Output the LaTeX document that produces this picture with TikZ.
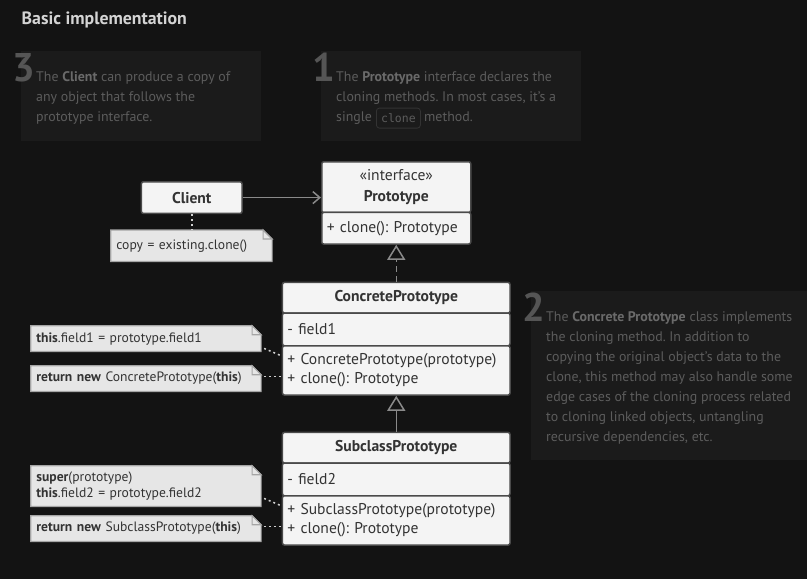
\documentclass[tikz,border=0pt]{standalone}
\usepackage{fontspec}
\setmainfont{PT Sans}
\setmonofont{DejaVu Sans Mono}
\usetikzlibrary{arrows.meta}
\frenchspacing
\definecolor{bgc}{HTML}{131313}
\definecolor{panelc}{HTML}{1B1B1B}
\definecolor{ptextc}{HTML}{5C5C5C}
\definecolor{pboldc}{HTML}{6A6A6A}
\definecolor{numc}{HTML}{555555}
\definecolor{titlec}{HTML}{D4D4D4}
\definecolor{boxfill}{HTML}{F4F4F4}
\definecolor{boxborder}{HTML}{4A4A4A}
\definecolor{boxtext}{HTML}{333333}
\definecolor{notefill}{HTML}{E6E6E6}
\definecolor{noteborder}{HTML}{A5A5A5}
\definecolor{arrowc}{HTML}{8A8A8A}
\definecolor{dotc}{HTML}{CFCFCF}
\definecolor{codeborder}{HTML}{333333}
\pgfdeclarelayer{background}
\pgfsetlayers{background,main}
\tikzset{
  panelbox/.style={fill=panelc, draw=none, anchor=north west, inner sep=0, minimum width=#1},
  ptext/.style={anchor=base west, inner sep=0, text=ptextc, font=\frenchspacing\fontsize{13.9}{20}\selectfont},
  bignum/.style={anchor=base west, inner sep=0, text=numc, font=\bfseries\fontsize{40}{40}\selectfont},
  cls/.style={draw=boxborder, fill=boxfill, line width=1.5pt, rounded corners=2pt,
    anchor=north west, inner ysep=0, inner xsep=5pt, text=boxtext,
    font=\frenchspacing\fontsize{15.6}{19.5}\selectfont},
  notebox/.style={anchor=north west, inner ysep=0, inner xsep=5.5pt, align=left,
    text=boxtext, font=\frenchspacing\fontsize{13.6}{16.7}\selectfont},
  notepoly/.style={fill=notefill, draw=noteborder, line width=1.2pt},
  assoc/.style={draw=arrowc, line width=1.5pt, -{Straight Barb[length=7pt,width=12pt,line width=1.5pt]}},
  inherit/.style={draw=arrowc, line width=1.5pt, -{Triangle[open,length=15pt,width=18pt,line width=1.5pt]}},
  realize/.style={inherit, dash pattern=on 6pt off 4pt},
  dotline/.style={draw=dotc, line width=1.5pt, dash pattern=on 2pt off 3pt},
}
\newcommand\dognote[1]{%
  \begin{pgfonlayer}{background}
  \filldraw[notepoly] (#1.north west) -- ([xshift=-9pt]#1.north east) -- ([yshift=-9pt]#1.north east)
     -- (#1.south east) -- (#1.south west) -- cycle;
  \filldraw[notepoly] ([xshift=-9pt]#1.north east) -- ([xshift=-9pt,yshift=-9pt]#1.north east)
     -- ([yshift=-9pt]#1.north east) -- cycle;
  \end{pgfonlayer}}
\begin{document}
\begin{tikzpicture}[x=1pt,y=-1pt]
\begin{pgfonlayer}{background}
\fill[bgc] (0,0) rectangle (807,579);
\end{pgfonlayer}
\useasboundingbox (0,0) rectangle (807,579);

% title
\node[anchor=base west, inner sep=0, text=titlec, font=\bfseries\fontsize{17.8}{20}\selectfont] (title) at (21.5,24) {Basic implementation};

% panel 3
\node[panelbox=240pt, minimum height=90pt] (p3) at (20.7,51) {};
\node[bignum] (n3) at (12.5,81.5) {3};
\node[ptext] (p3a) at (36,81.5) {The \textbf{\color{pboldc}Client} can produce a copy of};
\node[ptext] (p3b) at (36,101.5) {any object that follows the};
\node[ptext] (p3c) at (36,121.5) {prototype interface.};

% panel 1
\node[panelbox=260pt, minimum height=90pt] (p1) at (320.7,51) {};
\node[bignum] (n1) at (312,81.5) {1};
\node[ptext] (p1a) at (336,81.5) {The \textbf{\color{pboldc}Prototype} interface declares the};
\node[ptext] (p1b) at (336,101.5) {cloning methods. In most cases, it’s a};
\node[ptext] (p1c) at (336,121.5) {single};
\node[draw=codeborder, line width=0.8pt, rounded corners=3pt, anchor=north west, inner sep=0,
  minimum width=44pt, minimum height=20pt, text=ptextc, font=\ttfamily\fontsize{11.5}{12}\selectfont]
  (code) at (376,107.7) {clone};
\node[ptext] (p1d) at (424,121.5) {method.};

% panel 2
\node[panelbox=277pt, minimum height=169pt] (p2) at (530.7,291) {};
\node[bignum] (n2) at (522,321.5) {2};
\node[ptext] (p2a) at (546,321.5) {The \textbf{\color{pboldc}Concrete Prototype} class implements};
\node[ptext] (p2b) at (546,341.5) {the cloning method. In addition to};
\node[ptext] (p2c) at (546,361.5) {copying the original object’s data to the};
\node[ptext] (p2d) at (546,381.5) {clone, this method may also handle some};
\node[ptext] (p2e) at (546,401.5) {edge cases of the cloning process related};
\node[ptext] (p2f) at (546,421.5) {to cloning linked objects, untangling};
\node[ptext] (p2g) at (546,441.5) {recursive dependencies, etc.};

% Client
\node[cls, minimum width=100.6pt, minimum height=31.7pt, font=\bfseries\fontsize{15.6}{20}\selectfont] (client) at (140.7,181) {Client};
\node[notebox, text width=150pt, minimum height=31pt] (cnote) at (110.7,230) {copy = existing.clone()};
\dognote{cnote}

% Prototype
\node[cls, text width=139pt, align=center, minimum height=50.7pt] (protoH) at (321,161)
  {«interface»\\[1pt]\textbf{Prototype}};
\node[cls, text width=139pt, align=left, minimum height=31.6pt] (protoM) at (321,211.7)
  {+ clone(): Prototype};

% ConcretePrototype
\node[cls, text width=217.6pt, align=center, minimum height=30.6pt] (concH) at (281.7,281.7)
  {\textbf{ConcretePrototype}};
\node[cls, text width=217.6pt, align=left, minimum height=32.7pt] (concF) at (281.7,312.3)
  {- field1};
\node[cls, text width=217.6pt, align=left, minimum height=49.3pt] (concM) at (281.7,345)
  {+ ConcretePrototype(prototype)\\+ clone(): Prototype};

\node[notebox, text width=219pt, minimum height=25.3pt] (cn1) at (30.7,325.7)
  {\textbf{this}.field1 = prototype.field1};
\dognote{cn1}
\node[notebox, text width=219pt, minimum height=25.3pt] (cn2) at (30.7,365.7)
  {\textbf{return new} ConcretePrototype(\textbf{this})};
\dognote{cn2}

% SubclassPrototype
\node[cls, text width=217.6pt, align=center, minimum height=30.6pt] (subH) at (281.7,431.7)
  {\textbf{SubclassPrototype}};
\node[cls, text width=217.6pt, align=left, minimum height=32.7pt] (subF) at (281.7,462.3)
  {- field2};
\node[cls, text width=217.6pt, align=left, minimum height=49.3pt] (subM) at (281.7,495)
  {+ SubclassPrototype(prototype)\\+ clone(): Prototype};

\node[notebox, text width=219pt, minimum height=40.3pt] (sn1) at (30.7,465.7)
  {\textbf{super}(prototype)\\\textbf{this}.field2 = prototype.field2};
\dognote{sn1}
\node[notebox, text width=219pt, minimum height=25.3pt] (sn2) at (30.7,515.7)
  {\textbf{return new} SubclassPrototype(\textbf{this})};
\dognote{sn2}

% connectors
\draw[assoc] (client.east) -- (client.east -| protoH.west);
\draw[dotline] (client.south) -- (client.south |- cnote.north);
\draw[realize] (concH.north) -- (protoM.south);
\draw[inherit] (subH.north) -- (concM.south);
\draw[dotline] ([xshift=3pt,yshift=3pt]cn1.south east) -- ([yshift=-11pt]concM.north west);
\draw[dotline] ([xshift=3pt,yshift=2pt]cn2.east) -- ([yshift=2pt]cn2.east -| concM.west);
\draw[dotline] ([xshift=3pt,yshift=8pt]sn1.south east) -- ([yshift=-11pt]subM.north west);
\draw[dotline] ([xshift=3pt,yshift=2pt]sn2.east) -- ([yshift=2pt]sn2.east -| subM.west);
\end{tikzpicture}
\end{document}
